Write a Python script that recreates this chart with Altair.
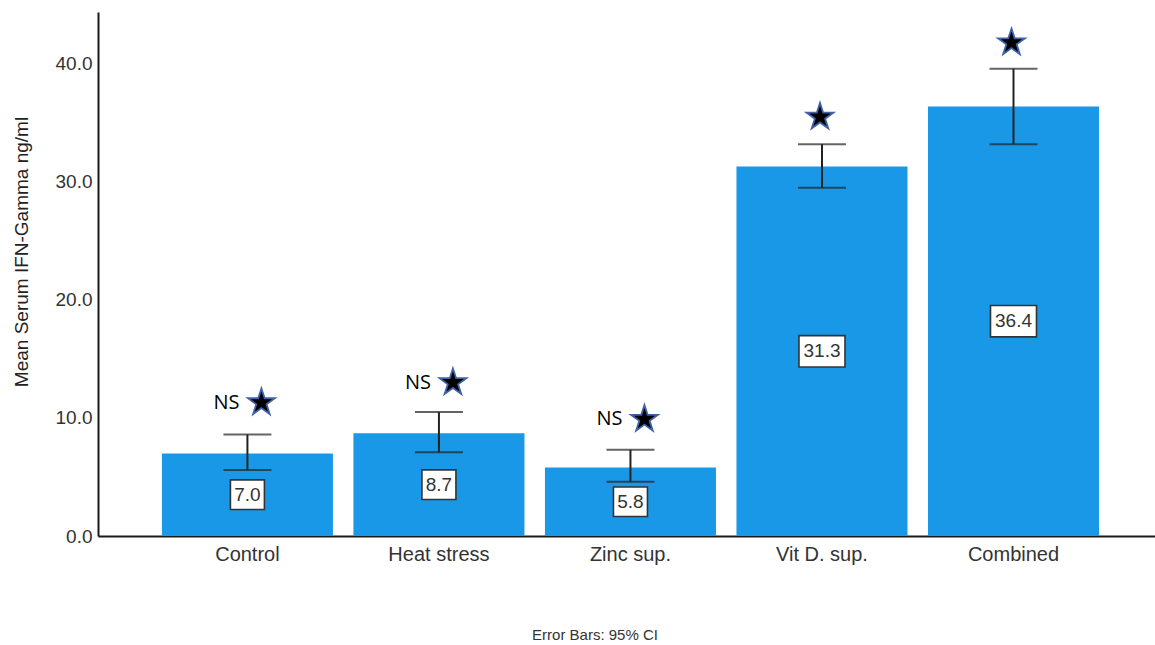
import altair as alt
import pandas as pd

groups = ["Control", "Heat stress", "Zinc sup.", "Vit D. sup.", "Combined"]
means = [7.0, 8.7, 5.8, 31.3, 36.4]
ci_low = [5.6, 7.1, 4.6, 29.5, 33.2]
ci_high = [8.6, 10.5, 7.3, 33.2, 39.6]
star_y = [11.3, 13.0, 9.9, 35.5, 41.8]
sig = ["NS", "NS", "NS", "", ""]
y_ticks = [0, 10, 20, 30, 40]
footer_text = "Error Bars: 95% CI"
y_title = "Mean Serum IFN-Gamma ng/ml"

df = pd.DataFrame({
    "group": groups,
    "mean": means,
    "lo": ci_low,
    "hi": ci_high,
    "star": star_y,
    "sig": sig,
})
df["half"] = df["mean"] / 2
df["label"] = df["mean"].map(lambda v: f"{v:.1f}")

BLUE = "#1A98E8"
AX = "Liberation Sans"
STAR = ("M0,-1L0.2245,-0.309L0.9511,-0.309L0.3633,0.118L0.5878,0.809L0,0.382"
        "L-0.5878,0.809L-0.3633,0.118L-0.9511,-0.309L-0.2245,-0.309Z")
BOX_SHORT = "M-1,-0.87H1V0.87H-1Z"
BOX_LONG = "M-1,-0.68H1V0.68H-1Z"

x_axis = alt.Axis(
    title=None, orient="bottom", labelAngle=0, ticks=False, labelFont=AX, labelFontSize=20,
    labelColor="#333333", labelPadding=8, domainColor="#1a1a1a", domainWidth=2,
    grid=False,
)
xscale = alt.Scale(paddingInner=0.107, paddingOuter=0.313, align=0.533)
yscale = alt.Scale(domain=[0, 44.4], nice=False, zero=True)
y_axis = alt.Axis(
    title=None, orient="left", values=y_ticks, format=".1f", ticks=False,
    labelFont=AX, labelFontSize=19, labelColor="#333333", labelPadding=6,
    domainColor="#1a1a1a", domainWidth=2, grid=False,
)


def X():
    return alt.X("group:N", sort=groups, scale=xscale, axis=x_axis)


def Y(field):
    return alt.Y(f"{field}:Q", scale=yscale, axis=y_axis, title=None)


base = alt.Chart(df)

bars = base.mark_bar(color=BLUE).encode(x=X(), y=Y("mean"))

err = base.mark_rule(color="#222222", strokeWidth=2).encode(x=X(), y=Y("lo"), y2="hi:Q")
cap_lo = base.mark_tick(color="#222222", thickness=2, size=48).encode(x=X(), y=Y("lo"))
cap_hi = base.mark_tick(color="#222222", thickness=2, size=48).encode(x=X(), y=Y("hi"))

boxes_short = base.transform_filter("length(datum.label) <= 3").mark_point(
    shape=BOX_SHORT, size=34 * 34, filled=True, fill="white",
    stroke="#333333", strokeWidth=1.6, opacity=1,
).encode(x=X(), y=Y("half"))

boxes_long = base.transform_filter("length(datum.label) > 3").mark_point(
    shape=BOX_LONG, size=46 * 46, filled=True, fill="white",
    stroke="#333333", strokeWidth=1.6, opacity=1,
).encode(x=X(), y=Y("half"))

labels = base.mark_text(font=AX, fontSize=19, color="#333333", baseline="middle").encode(
    x=X(), y=Y("half"), text="label:N"
)

stars_ns = base.transform_filter("datum.sig == 'NS'").mark_point(
    shape=STAR, size=800, filled=True, fill="#000000", stroke="#3F62A8",
    strokeWidth=1.8, opacity=1, xOffset=14,
).encode(x=X(), y=Y("star"))

stars_sig = base.transform_filter("datum.sig != 'NS'").mark_point(
    shape=STAR, size=800, filled=True, fill="#000000", stroke="#3F62A8",
    strokeWidth=1.8, opacity=1, xOffset=-2,
).encode(x=X(), y=Y("star"))

ns_text = base.transform_filter("datum.sig == 'NS'").mark_text(
    font="Open Sans", fontSize=20, color="#000000", baseline="middle", xOffset=-21,
).encode(x=X(), y=Y("star"), text="sig:N")

footer = base.transform_filter("datum.group == 'Control'").mark_text(
    font=AX, fontSize=15, color="#333333", baseline="middle",
).encode(x=alt.value(497), y=alt.value(623), text=alt.value(footer_text))

ytitle = base.transform_filter("datum.group == 'Control'").mark_text(
    font=AX, fontSize=19, color="#222222", baseline="middle", angle=270,
).encode(x=alt.value(-76), y=alt.value(240), text=alt.value(y_title))

chart = alt.layer(
    bars, err, cap_lo, cap_hi, boxes_short, boxes_long, labels,
    stars_ns, stars_sig, ns_text, footer, ytitle
).properties(
    width=1057, height=524,
    background="white",
    autosize=alt.AutoSizeParams(type="none"),
    padding={"left": 98, "top": 12, "right": 0, "bottom": 109},
).configure_view(stroke=None)

chart.save("out.html", embed_options={"renderer": "svg", "actions": False})
